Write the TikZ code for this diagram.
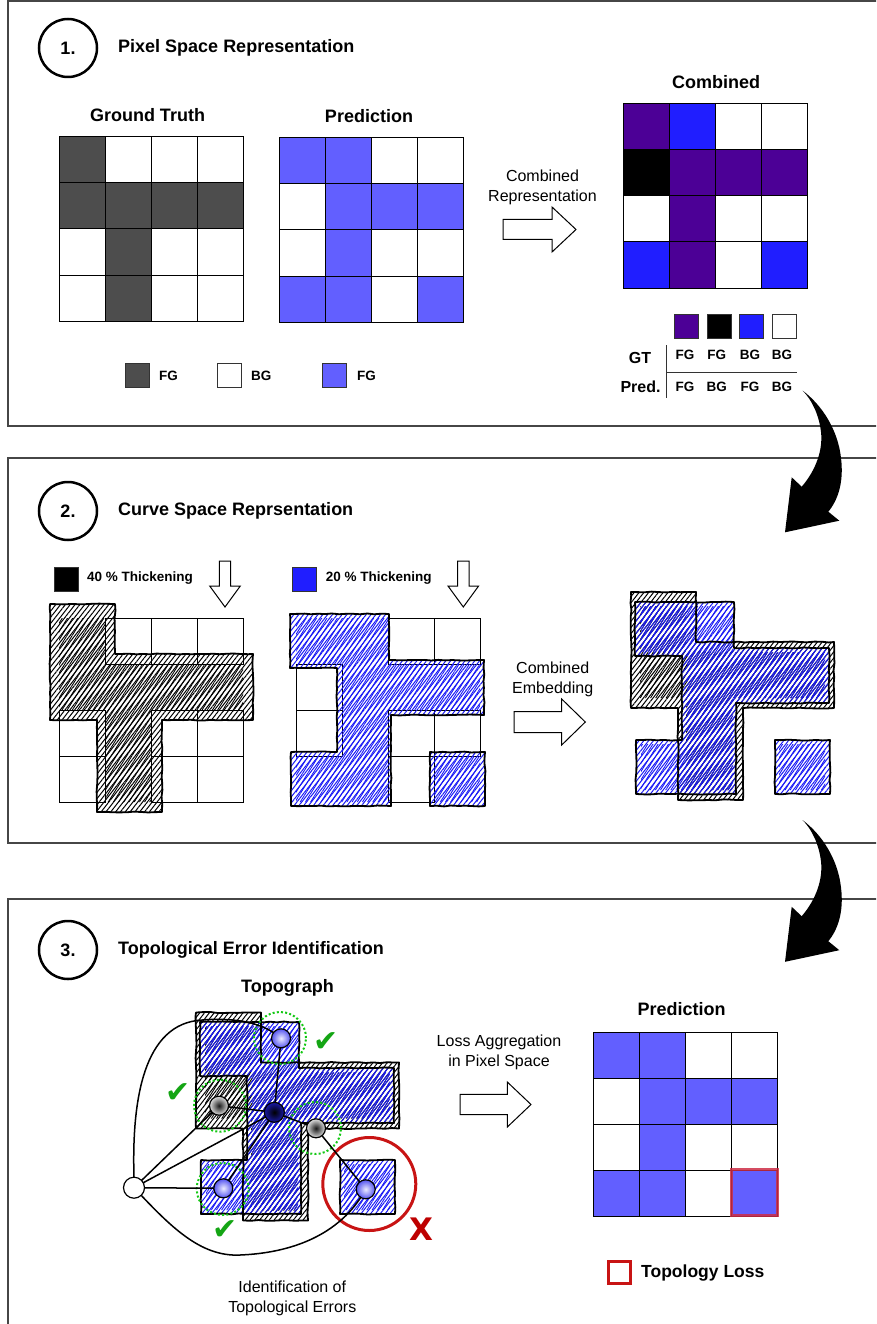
\documentclass[tikz,border=0pt]{standalone}
\usepackage{fontspec}
\setmainfont{Liberation Sans}
\newfontfamily\dejavu{DejaVu Sans}
\usetikzlibrary{patterns.meta,decorations.pathmorphing}
\definecolor{gtfg}{RGB}{77,77,77}
\definecolor{prfg}{RGB}{98,95,255}
\definecolor{cpurple}{RGB}{76,0,150}
\definecolor{cblue}{RGB}{32,30,255}
\definecolor{hblue}{RGB}{25,25,245}
\definecolor{gdot}{RGB}{20,200,20}
\definecolor{gcheck}{RGB}{20,165,20}
\definecolor{rcirc}{RGB}{200,20,20}
\definecolor{rx}{RGB}{190,0,0}
\definecolor{rloss}{RGB}{205,45,70}
\definecolor{secline}{RGB}{70,70,70}
\definecolor{balllight}{RGB}{235,235,255}
\definecolor{balldark}{RGB}{85,85,240}
\definecolor{navy}{RGB}{25,25,165}
\newcommand\mkgrid[3]{%
  \foreach \c [count=\i from 0] in {#3} {%
    \pgfmathtruncatemacro\mycol{mod(\i,4)}%
    \pgfmathtruncatemacro\myrow{\i/4}%
    \draw[cellst, fill=\c] ({#1+46*\mycol},{#2+46*\myrow}) rectangle ++(46,46);
  }}
\begin{document}
\begin{tikzpicture}[x=1pt,y=-1pt,
  secbox/.style={draw=secline, line width=1.2pt},
  numcirc/.style={circle, draw=black, line width=2.5pt, minimum size=58pt, inner sep=0pt, font=\bfseries\fontsize{18}{21}\selectfont},
  ttl/.style={font=\bfseries\fontsize{18}{21}\selectfont, inner sep=0pt, anchor=west},
  hdr/.style={font=\bfseries\fontsize{18}{21}\selectfont, inner sep=0pt},
  lbl/.style={font=\fontsize{16}{20}\selectfont, align=center, inner sep=0pt},
  sm/.style={font=\bfseries\fontsize{13.5}{16}\selectfont, inner sep=0pt},
  md/.style={font=\bfseries\fontsize{16}{19}\selectfont, inner sep=0pt},
  cellst/.style={draw=black, line width=1pt},
  legsq/.style={draw=black!80, line width=1pt, minimum size=24pt, inner sep=0pt},
  blockarrow/.style={draw=black, fill=white, line width=1pt, line join=miter},
  hatchK/.style={pattern={Lines[angle=52,distance=3.8pt,line width=1pt]}, pattern color=black},
  hatchKb/.style={pattern={Lines[angle=58,distance=4.4pt,line width=.9pt]}, pattern color=black},
  hatchB/.style={pattern={Lines[angle=52,distance=3.8pt,line width=1pt]}, pattern color=hblue},
  hatchBb/.style={pattern={Lines[angle=58,distance=4.4pt,line width=.9pt]}, pattern color=hblue},
  sketch/.style={draw=black, line width=1.8pt, line join=round, decorate, decoration={random steps,segment length=7pt,amplitude=.5pt}},
  gtthick/.style={insert path={(50,604)--(115,604)--(115,654)--(253,654)--(253,720)--(162,720)--(162,812)--(97,812)--(97,720)--(50,720)--cycle}},
  gtorig/.style={insert path={(59,618)--(105,618)--(105,664)--(243,664)--(243,710)--(151,710)--(151,802)--(105,802)--(105,710)--(59,710)--cycle}},
  prthick/.style={insert path={(290,614)--(389,614)--(389,660)--(484,660)--(484,715)--(391,715)--(391,806)--(291,806)--(291,752)--(337,752)--(337,668)--(290,668)--cycle (430,752) rectangle (485,806)}},
  prorig/.style={insert path={(296,618)--(388,618)--(388,664)--(480,664)--(480,710)--(388,710)--(388,802)--(296,802)--(296,756)--(342,756)--(342,664)--(296,664)--cycle (434,756) rectangle (480,802)}},
  bball/.style={circle, draw=black, line width=1.2pt, minimum size=19pt, inner sep=0pt, inner color=balllight, outer color=balldark},
  gball/.style={circle, draw=black, line width=1.2pt, minimum size=19pt, inner sep=0pt, inner color=black!90, outer color=black!12},
  cball/.style={circle, draw=black, line width=1.2pt, minimum size=20pt, inner sep=0pt, inner color=black, outer color=navy},
  wnode/.style={circle, draw=black, line width=1.2pt, minimum size=21pt, inner sep=0pt, fill=white},
  gcirc/.style={circle, draw=gdot, line width=2pt, dash pattern=on 2pt off 2.2pt, minimum size=52pt, inner sep=0pt},
  rcircle/.style={circle, draw=rcirc, line width=3pt, minimum size=93pt, inner sep=0pt},
  edge/.style={draw=black, line width=1.5pt},
  chk/.style={text=gcheck, font=\dejavu\fontsize{30}{30}\selectfont, inner sep=0pt},
]
\useasboundingbox (0,0) rectangle (876,1324);
\clip (0,0) rectangle (876,1324);

% ---------- section frames ----------
\draw[secbox] (880,1)--(8,1)--(8,426)--(880,426);
\draw[secbox] (880,458)--(8,458)--(8,843)--(880,843);
\draw[secbox] (880,899)--(8,899)--(8,1330);

% ---------- section 1 ----------
\node[numcirc] (c1) at (68,48) {1.};
\node[ttl] (t1) at (118,48) {Pixel Space Representation};
\node[hdr] (gtl) at (147.5,115) {Ground Truth};
\node[hdr] (prl) at (369,116) {Prediction};
\node[hdr] (cbl) at (716,82) {Combined};

\mkgrid{59}{137}{gtfg,white,white,white, gtfg,gtfg,gtfg,gtfg, white,gtfg,white,white, white,gtfg,white,white}
\mkgrid{279}{138}{prfg,prfg,white,white, white,prfg,prfg,prfg, white,prfg,white,white, prfg,prfg,white,prfg}
\mkgrid{623}{104}{cpurple,cblue,white,white, black,cpurple,cpurple,cpurple, white,cpurple,white,white, cblue,cpurple,white,cblue}

\node[legsq, fill=gtfg] (l1) at (137,375) {};
\node[sm, anchor=west] (l1t) at (159,376) {FG};
\node[legsq, fill=white] (l2) at (229,375) {};
\node[sm, anchor=west] (l2t) at (251,376) {BG};
\node[legsq, fill=prfg] (l3) at (334,375) {};
\node[sm, anchor=west] (l3t) at (357,376) {FG};

\node[lbl] (crt) at (542.5,187) {Combined\\Representation};
\draw[blockarrow] (503,219.5)--(552,219.5)--(552,207)--(576,229.5)--(552,252)--(552,239.5)--(503,239.5)--cycle;

\node[legsq, fill=cpurple] (k1) at (686.5,326) {};
\node[legsq, fill=black] (k2) at (719,326) {};
\node[legsq, fill=cblue] (k3) at (751.5,326) {};
\node[legsq, fill=white] (k4) at (784,326) {};
\node[md] (gtrow) at (640,358) {GT};
\node[md] (prrow) at (640.5,387) {Pred.};
\draw[black!80, line width=1pt] (666.7,345)--(666.7,398);
\draw[black!80, line width=1pt] (666.7,372.3)--(796.7,372.3);
\foreach \x/\a/\b in {685/FG/FG, 716.7/FG/BG, 750/BG/FG, 782/BG/BG} {
  \node[sm] at (\x,355) {\a};
  \node[sm] at (\x,387) {\b};
}

% ---------- curved arrows ----------
\fill[black] (802.7,390.7) .. controls (822,405) and (838,430) .. (841,458) .. controls (844,482) and (838,500) .. (828.3,511.7) -- (839.3,520.7) -- (785,532.3) -- (791.7,477.3) -- (801.7,486.7) .. controls (816,470) and (823,450) .. (821,432) .. controls (819,415) and (812,400) .. (802.7,390.7) -- cycle;
\begin{scope}[shift={(0,429.5)}]
\fill[black] (802.7,390.7) .. controls (822,405) and (838,430) .. (841,458) .. controls (844,482) and (838,500) .. (828.3,511.7) -- (839.3,520.7) -- (785,532.3) -- (791.7,477.3) -- (801.7,486.7) .. controls (816,470) and (823,450) .. (821,432) .. controls (819,415) and (812,400) .. (802.7,390.7) -- cycle;
\end{scope}

% ---------- section 2 ----------
\node[numcirc] (c2) at (68,511) {2.};
\node[ttl] (t2) at (118,511) {Curve Space Reprsentation};
\node[legsq, fill=black] (s2a) at (66.5,579) {};
\node[sm, anchor=west] (s2at) at (87,578) {40 \% Thickening};
\node[legsq, fill=cblue] (s2b) at (304.7,579) {};
\node[sm, anchor=west] (s2bt) at (325.7,578) {20 \% Thickening};
\foreach \cx in {225,463.3} {
  \draw[blockarrow] ({\cx-5.7},561)--({\cx+5.7},561)--({\cx+5.7},586)--({\cx+15.3},586)--(\cx,607)--({\cx-15.3},586)--({\cx-5.7},586)--cycle;
}
% white cells of the grids
\foreach \gx/\gy in {1/0,2/0,3/0,0/2,2/2,3/2,0/3,2/3,3/3}
  \draw[cellst] ({59+46*\gx},{618+46*\gy}) rectangle ++(46,46);
\foreach \gx/\gy in {2/0,3/0,0/1,0/2,2/2,3/2,2/3}
  \draw[cellst] ({296+46*\gx},{618+46*\gy}) rectangle ++(46,46);
% hatched shapes
\path[hatchK, gtthick];
\path[hatchKb, gtorig];
\draw[sketch, gtthick];
\path[hatchB, prthick];
\path[hatchBb, prorig];
\draw[sketch, prthick];

\node[lbl] (cet) at (552.7,679) {Combined\\Embedding};
\draw[blockarrow] (514,711.5)--(561.7,711.5)--(561.7,699)--(585.3,722)--(561.7,745)--(561.7,732.5)--(514,732.5)--cycle;

\begin{scope}[shift={(581,-12)}]
  \path[hatchK, gtthick];
  \path[hatchKb, gtorig];
\end{scope}
\begin{scope}[shift={(345,-12)}]
  \path[hatchB, prthick];
  \path[hatchBb, prorig];
\end{scope}
\begin{scope}[shift={(581,-12)}]
  \draw[sketch, gtthick];
\end{scope}
\begin{scope}[shift={(345,-12)}]
  \draw[sketch, prthick];
\end{scope}

% ---------- section 3 ----------
\node[numcirc] (c3) at (68,950) {3.};
\node[ttl] (t3) at (118,950) {Topological Error Identification};
\node[hdr] (tpl) at (287.5,988) {Topograph};

\begin{scope}[shift={(146,408.5)}]
  \path[hatchK, gtthick];
  \path[hatchKb, gtorig];
\end{scope}
\begin{scope}[shift={(-90,408)}]
  \path[hatchB, prthick];
  \path[hatchBb, prorig];
\end{scope}
\begin{scope}[shift={(146,408.5)}]
  \draw[sketch, gtthick];
\end{scope}
\begin{scope}[shift={(-90,408)}]
  \draw[sketch, prthick];
\end{scope}

\node[gcirc] (g1) at (280,1038) {};
\node[gcirc] (g2) at (220,1105.7) {};
\node[gcirc] (g3) at (315,1128) {};
\node[gcirc] (g4) at (222.7,1189) {};
\node[rcircle] (rc) at (369.3,1184) {};

\coordinate (nt) at (281,1038.3);
\coordinate (nl) at (219,1105.7);
\coordinate (nc) at (274.3,1112.3);
\coordinate (nr) at (316,1128.3);
\coordinate (nb) at (223.3,1188.3);
\coordinate (ne) at (365.7,1189.3);
\coordinate (nw) at (134,1187.7);

\draw[edge] (nt) -- (nc);
\draw[edge] (nl) -- (nc);
\draw[edge] (nc) -- (nr);
\draw[edge] (nr) -- (ne);
\draw[edge] (nc) -- (nb);
\draw[edge] (nw) -- (nl);
\draw[edge] (nw) -- (nc);
\draw[edge] (nw) -- (nb);
\draw[edge] (134,1177) .. controls (132,1110) and (140,1028) .. (197,1020.5) .. controls (230,1017) and (262,1021) .. (nt);
\draw[edge] (nw) .. controls (170,1226) and (200,1257) .. (240,1255) .. controls (290,1253) and (340,1236) .. (ne);

\node[bball] (bt) at (nt) {};
\node[gball] (bl) at (nl) {};
\node[cball] (bc) at (nc) {};
\node[gball] (br) at (nr) {};
\node[bball] (bb) at (nb) {};
\node[bball] (be) at (ne) {};
\node[wnode] (bw) at (nw) {};

\node[chk] (ck1) at (325.7,1041.7) {✔};
\node[chk] (ck2) at (178.3,1093) {✔};
\node[chk] (ck3) at (225,1230) {✔};
\node[text=rx, font=\dejavu\bfseries\fontsize{31}{31}\selectfont, inner sep=0pt] (xm) at (421.7,1229.3) {X};

\node[lbl] (idt) at (292.3,1298) {Identification of\\Topological Errors};
\node[lbl] (lat) at (499,1052) {Loss Aggregation\\in Pixel Space};
\draw[blockarrow] (460,1094.3)--(507.3,1094.3)--(507.3,1082)--(531,1104.5)--(507.3,1127)--(507.3,1114.7)--(460,1114.7)--cycle;

\node[hdr] (p3l) at (681.7,1009) {Prediction};
\mkgrid{593}{1032}{prfg,prfg,white,white, white,prfg,prfg,prfg, white,prfg,white,white, prfg,prfg,white,prfg}
\draw[draw=rloss, draw opacity=.85, line width=3pt] (731,1169) rectangle (777,1215);
\node[draw=rcirc, line width=3.5pt, minimum size=22pt, inner sep=0pt, fill=white] (lossq) at (619.5,1272.5) {};
\node[font=\bfseries\fontsize{17.5}{20}\selectfont, inner sep=0pt, anchor=west] (losst) at (641,1273.3) {Topology Loss};
\end{tikzpicture}
\end{document}
